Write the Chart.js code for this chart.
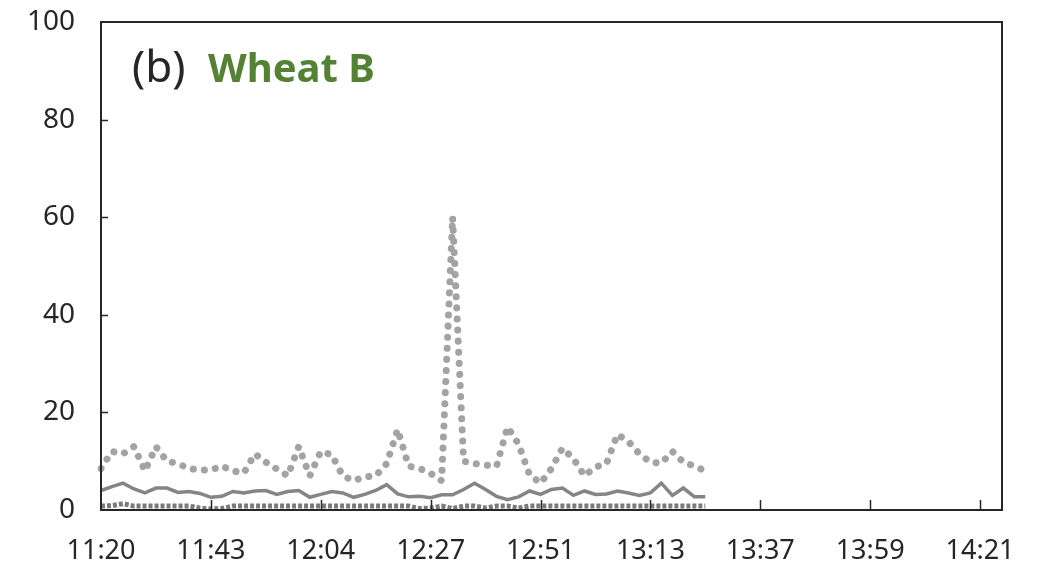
<!DOCTYPE html>
<html>
<head>
<meta charset="utf-8">
<script src="https://cdn.jsdelivr.net/npm/chart.js@4"></script>
<style>
  html, body { margin: 0; padding: 0; background: #fff; }
  #wrap { width: 1046px; height: 570px; position: relative; }
</style>
</head>
<body>
<div id="wrap"><canvas id="chart"></canvas></div>
<script>
// tick labels on the time axis, one every POINTS_PER_LABEL samples
const tickLabels = ['11:20', '11:43', '12:04', '12:27', '12:51', '13:13', '13:37', '13:59', '14:21'];
const POINTS_PER_LABEL = 10;
const EXTRA_POINTS = 2; // empty room right of the last label

// dotted grey series
const dottedSeries = [8.5, 12, 11.5, 13, 8, 13, 10, 9.5, 8.5, 8.2,
    8.2, 9, 8, 7.6, 11.5, 9.8, 8.4, 7, 13, 7,
    12, 11.3, 7, 6, 6.8, 7, 9.5, 16.5, 9, 8.5,
    7.5, 6, 60, 10, 9.5, 9.2, 9, 17, 13.5, 7.2,
    5.5, 8.5, 12.7, 10.5, 7, 8.8, 9.5, 15.5, 14, 11.5,
    9.8, 9.6, 12, 9.8, 9, 8];

// solid grey series
const solidSeries = [4, 4.8, 5.5, 4.3, 3.5, 4.5, 4.5, 3.6, 3.8, 3.4,
    2.6, 2.8, 3.8, 3.5, 3.9, 4, 3.2, 3.8, 4, 2.6,
    3.2, 3.8, 3.5, 2.6, 3.2, 4, 5.2, 3.3, 2.7, 2.8,
    2.5, 3.1, 3.1, 4.2, 5.5, 4.2, 2.8, 2.1, 2.7, 3.9,
    3.2, 4.2, 4.5, 3, 3.9, 3.2, 3.3, 3.9, 3.5, 3,
    3.5, 5.5, 3, 4.5, 2.7, 2.7];

// dashed series lying on the axis
const baseSeries = [0.8, 0.9, 1.3, 0.8, 0.8, 0.8, 0.8, 0.8, 0.8, 0.4,
    0.2, 0.3, 0.8, 0.8, 0.8, 0.8, 0.8, 0.8, 0.8, 0.8,
    0.8, 0.8, 0.8, 0.8, 0.8, 0.8, 0.8, 0.8, 0.8, 0.3,
    0.4, 0.8, 0.3, 0.8, 0.8, 0.4, 0.8, 0.8, 0.4, 0.8,
    0.8, 0.8, 0.8, 0.8, 0.8, 0.8, 0.8, 0.8, 0.8, 0.8,
    0.8, 0.8, 0.8, 0.8, 0.8, 0.8];

const yTicks = [0, 20, 40, 60, 80, 100];

// category labels: a time every POINTS_PER_LABEL samples, blank otherwise
const nCats = (tickLabels.length - 1) * POINTS_PER_LABEL + EXTRA_POINTS + 1;
const categories = [];
for (let i = 0; i < nCats; i++) {
    categories.push(i % POINTS_PER_LABEL === 0 ? (tickLabels[i / POINTS_PER_LABEL] || '') : '');
}

const FONT = '"Noto Sans", "Open Sans", sans-serif';

// frame, inside tick marks and the panel title
const framePlugin = {
    id: 'frame',
    afterDraw(chart) {
        const { ctx, chartArea: a, scales } = chart;
        ctx.save();
        ctx.strokeStyle = '#262626';
        ctx.lineWidth = 2;
        ctx.strokeRect(a.left, a.top, a.right - a.left, a.bottom - a.top);

        ctx.lineWidth = 1.5;
        ctx.beginPath();
        for (let j = 1; j < tickLabels.length; j++) {
            const x = Math.round(scales.x.getPixelForValue(j * POINTS_PER_LABEL)) + 0.5;
            ctx.moveTo(x, a.bottom);
            ctx.lineTo(x, a.bottom - 10);
        }
        yTicks.forEach(v => {
            if (v === 0 || v === 100) return;
            const y = Math.round(scales.y.getPixelForValue(v)) + 0.5;
            ctx.moveTo(a.left, y);
            ctx.lineTo(a.left + 7, y);
        });
        ctx.stroke();

        ctx.textBaseline = 'alphabetic';
        ctx.fillStyle = '#262626';
        ctx.font = '44px ' + FONT;
        ctx.fillText('(b)', 132, 82);
        ctx.fillStyle = '#548235';
        ctx.font = 'bold 40px ' + FONT;
        ctx.fillText('Wheat B', 208, 82);
        ctx.restore();
    }
};

new Chart(document.getElementById('chart'), {
    type: 'line',
    data: {
        labels: categories,
        datasets: [
            {
                label: 'dotted',
                data: dottedSeries,
                borderColor: '#a3a3a3',
                borderWidth: 7,
                borderDash: [0.1, 11],
                borderCapStyle: 'round',
                pointRadius: 0,
                tension: 0,
                fill: false
            },
            {
                label: 'solid',
                data: solidSeries,
                borderColor: '#858585',
                borderWidth: 3.5,
                pointRadius: 0,
                tension: 0,
                fill: false
            },
            {
                label: 'base',
                data: baseSeries,
                borderColor: '#7a7a7a',
                borderWidth: 5,
                borderDash: [4, 2],
                pointRadius: 0,
                tension: 0,
                fill: false
            }
        ]
    },
    options: {
        responsive: true,
        maintainAspectRatio: false,
        animation: false,
        layout: { padding: { top: 22, right: 44, left: 0, bottom: 0 } },
        plugins: {
            legend: { display: false },
            tooltip: { enabled: false }
        },
        scales: {
            x: {
                type: 'category',
                offset: false,
                grid: { display: false, drawTicks: false },
                border: { display: false },
                ticks: {
                    autoSkip: false,
                    maxRotation: 0,
                    minRotation: 0,
                    padding: 25,
                    color: '#262626',
                    font: { family: FONT, size: 27 }
                },
                afterFit(scale) { scale.height = 60; }
            },
            y: {
                min: 0,
                max: 100,
                grid: { display: false, drawTicks: false },
                border: { display: false },
                ticks: {
                    stepSize: 20,
                    padding: 26,
                    color: '#262626',
                    font: { family: FONT, size: 28 }
                },
                afterFit(scale) {
                    scale.width = 101;
                    scale.paddingTop = 0;
                    scale.paddingBottom = 0;
                }
            }
        }
    },
    plugins: [framePlugin]
});
</script>
</body>
</html>
